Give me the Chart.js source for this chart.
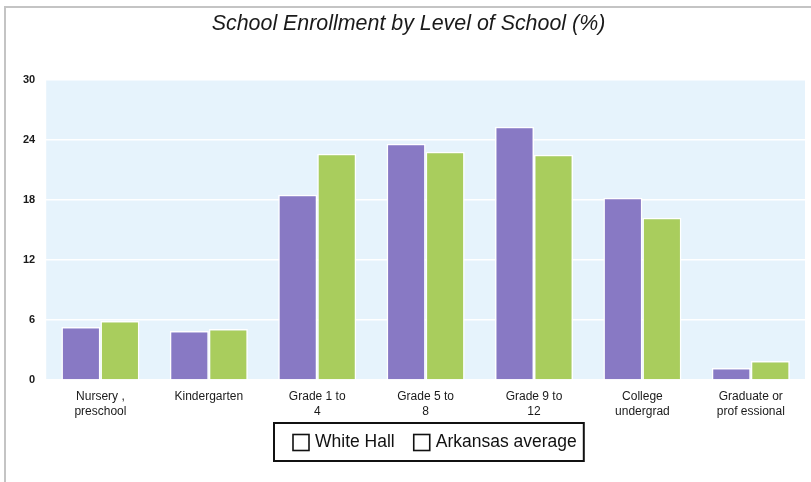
<!DOCTYPE html>
<html>
<head>
<meta charset="utf-8">
<script src="https://cdn.jsdelivr.net/npm/chart.js@4.4.1/dist/chart.umd.min.js"></script>
<style>
  html, body { margin: 0; padding: 0; background: #fff; }
  #frame { position: absolute; left: 4px; top: 6px; width: 830px; height: 500px;
           border-left: 2px solid #c4c4c4; border-top: 2px solid #c4c4c4; }
  #wrap { position: absolute; left: 0; top: 0; width: 811px; height: 482px; }
</style>
</head>
<body>
<div id="frame"></div>
<div id="wrap"><canvas id="c" width="811" height="482"></canvas></div>
<script>
const categories = [
  ["Nursery ,", "preschool"],
  ["Kindergarten"],
  ["Grade 1 to", "4"],
  ["Grade 5 to", "8"],
  ["Grade 9 to", "12"],
  ["College", "undergrad"],
  ["Graduate or", "prof essional"]
];
const whiteHall = [5.3, 4.9, 18.5, 23.6, 25.3, 18.2, 1.2];
const arkansasAverage = [5.9, 5.1, 22.6, 22.8, 22.5, 16.2, 1.9];
const yTicks = [0, 6, 12, 18, 24, 30];

const FONT = "'Liberation Sans', Arial, sans-serif";

// light blue plot background behind the bars
const plotBackground = {
  id: 'plotBackground',
  beforeDraw(chart) {
    const { ctx, chartArea: a } = chart;
    ctx.save();
    ctx.fillStyle = '#e6f3fc';
    ctx.fillRect(a.left, a.top, a.right - a.left, a.bottom - a.top);
    ctx.restore();
  }
};

// framed legend with hollow square markers, centred under the plot
const boxedLegend = {
  id: 'boxedLegend',
  afterDraw(chart) {
    const ctx = chart.ctx;
    const a = chart.chartArea;
    const names = chart.data.datasets.map(d => d.label);
    const box = 16, boxGap = 6, itemGap = 19, padL = 19, padR = 7;
    const frameTop = 423, frameH = 38;
    ctx.save();
    ctx.font = "17.5px " + FONT;
    const widths = names.map(n => ctx.measureText(n).width);
    let inner = 0;
    widths.forEach((w, i) => { inner += box + boxGap + w + (i < widths.length - 1 ? itemGap : 0); });
    const frameW = padL + inner + padR;
    const cx = (a.left + a.right) / 2 + 3;
    const fx = Math.round(cx - frameW / 2);
    ctx.strokeStyle = '#111';
    ctx.lineWidth = 2;
    ctx.strokeRect(fx, frameTop, frameW, frameH);
    const midY = frameTop + frameH / 2 + 0.5;
    let x = fx + padL;
    ctx.lineWidth = 1.6;
    ctx.fillStyle = '#111';
    ctx.textBaseline = 'middle';
    names.forEach((n, i) => {
      ctx.fillStyle = '#fff';
      ctx.fillRect(x, midY - box / 2, box, box);
      ctx.strokeRect(x, midY - box / 2, box, box);
      ctx.fillStyle = '#111';
      ctx.fillText(n, x + box + boxGap, midY);
      x += box + boxGap + widths[i] + itemGap;
    });
    ctx.restore();
  }
};

new Chart(document.getElementById('c'), {
  type: 'bar',
  data: {
    labels: categories,
    datasets: [
      { label: 'White Hall', data: whiteHall, backgroundColor: '#8879c4',
        borderColor: '#ffffff', borderWidth: 1.5 },
      { label: 'Arkansas average', data: arkansasAverage, backgroundColor: '#a9cd5d',
        borderColor: '#ffffff', borderWidth: 1.5 }
    ]
  },
  options: {
    responsive: false,
    animation: false,
    layout: { padding: { left: 12, right: 6, top: 0, bottom: 62 } },
    datasets: { bar: { barPercentage: 1.0, categoryPercentage: 0.72 } },
    scales: {
      x: {
        grid: { display: false },
        border: { display: false },
        ticks: { color: '#1a1a1a', font: { family: FONT, size: 12, lineHeight: 1.25 }, maxRotation: 0, autoSkip: false, padding: 1 }
      },
      y: {
        min: 0, max: 30,
        afterBuildTicks(axis) { axis.ticks = yTicks.map(v => ({ value: v })); },
        grid: { color: '#ffffff', lineWidth: 1.5, drawTicks: false },
        border: { display: false },
        ticks: { color: '#1a1a1a', font: { family: FONT, size: 11, weight: 'bold' }, padding: 11 }
      }
    },
    plugins: {
      title: {
        display: true,
        text: 'School Enrollment by Level of School (%)',
        color: '#1a1a1a',
        font: { family: FONT, size: 21.4, style: 'italic', weight: 'normal' },
        padding: { top: 11, bottom: 43 }
      },
      legend: { display: false },
      tooltip: { enabled: false }
    }
  },
  plugins: [plotBackground, boxedLegend]
});
</script>
</body>
</html>
